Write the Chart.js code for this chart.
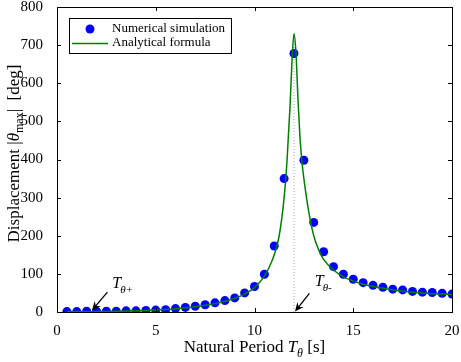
<!DOCTYPE html>
<html>
<head>
<meta charset="utf-8">
<script src="https://cdn.jsdelivr.net/npm/chart.js@4.4.1/dist/chart.umd.min.js"></script>
<style>
	body { margin: 0; background: #fff; }
	canvas { display: block; }
</style>
</head>
<body>
<canvas id="c" width="461" height="362"></canvas>
<script>
// numerical simulation points
const simPeriod = [0.5, 1, 1.5, 2, 2.5, 3, 3.5, 4, 4.5, 5, 5.5, 6, 6.5, 7, 7.5, 8, 8.5, 9, 9.5, 10,
	10.5, 11, 11.5, 12, 12.5, 13, 13.5, 14, 14.5, 15, 15.5, 16, 16.5, 17, 17.5, 18, 18.5, 19, 19.5, 20];
const simDisp = [1, 1, 2, 2, 2, 2, 3, 3, 4, 5, 6, 9, 12, 15, 19, 24, 30, 37, 50, 67,
	99, 173, 350, 678, 398, 235, 158, 119, 99, 86, 77, 70, 65, 60, 58, 54, 52, 51, 49, 47];

// analytical formula curve
const curvePeriod = [0.5, 1, 1.5, 2, 2.5, 3, 3.5, 4, 4.5, 5, 5.5, 6, 6.5, 7, 7.5, 8, 8.5, 9, 9.5, 10,
	10.5, 10.75, 11, 11.25, 11.5, 11.65, 11.8, 11.9, 12, 12.1, 12.2, 12.3, 12.4, 12.5, 12.75, 13, 13.25, 13.5,
	14, 14.5, 15, 15.5, 16, 16.5, 17, 17.5, 18, 18.5, 19, 19.5, 20];
const curveDisp = [1, 1, 0.5, 1, 1.5, 2, 2.5, 3, 4, 5, 6.5, 8.5, 11, 14, 18, 22, 28, 36, 47, 64,
	94, 118, 150, 200, 300, 400, 540, 660, 730, 680, 560, 460, 395, 350, 262, 200, 163, 138,
	110, 92, 81, 73, 67, 62, 58, 55, 52, 50, 48, 47, 46];

// resonance marker
const resPeriod = [12, 12];
const resDisp = [0, 730];

// annotations: [tipX, tipY, tailX, tailY, labelX, labelY, subscript]
const notes = [
	[1.77, 4, 2.55, 52, 2.8, 64, 'θ+'],
	[12.05, 1, 12.78, 49, 13.05, 69, 'θ-']
];

const serif = '"Liberation Serif", "Times New Roman", serif';

function pts(xs, ys) {
	return xs.map((x, i) => ({ x: x, y: ys[i] }));
}

// 文字列をパーツごとに描く
function drawRich(ctx, parts, x, y) {
	let w = 0;
	parts.forEach(p => { ctx.font = p.font; w += ctx.measureText(p.t).width; });
	let cx = x - w / 2;
	parts.forEach(p => {
		ctx.font = p.font;
		ctx.fillText(p.t, cx, y + (p.dy || 0));
		cx += ctx.measureText(p.t).width;
	});
}

function arrow(ctx, x1, y1, x2, y2) {
	const a = Math.atan2(y2 - y1, x2 - x1);
	const hl = 9, hw = 4;
	ctx.beginPath();
	ctx.moveTo(x1, y1);
	ctx.lineTo(x2 - Math.cos(a) * 5, y2 - Math.sin(a) * 5);
	ctx.lineWidth = 1.3;
	ctx.stroke();
	ctx.beginPath();
	ctx.moveTo(x2, y2);
	ctx.lineTo(x2 - hl * Math.cos(a) + hw * Math.sin(a), y2 - hl * Math.sin(a) - hw * Math.cos(a));
	ctx.lineTo(x2 - 6 * Math.cos(a), y2 - 6 * Math.sin(a));
	ctx.lineTo(x2 - hl * Math.cos(a) - hw * Math.sin(a), y2 - hl * Math.sin(a) + hw * Math.cos(a));
	ctx.closePath();
	ctx.fill();
}

const deco = {
	id: 'deco',
	afterDraw(chart) {
		const ctx = chart.ctx;
		const ca = chart.chartArea;
		const xs = chart.scales.x, ys = chart.scales.y;
		ctx.save();
		ctx.strokeStyle = '#000';
		ctx.fillStyle = '#000';

		// box
		ctx.lineWidth = 1;
		ctx.strokeRect(Math.round(ca.left) + 0.5, Math.round(ca.top) + 0.5,
			Math.round(ca.right - ca.left), Math.round(ca.bottom - ca.top));

		// inside ticks
		ctx.beginPath();
		xs.ticks.forEach(t => {
			if (t.value <= xs.min || t.value >= xs.max) return;
			const px = Math.round(xs.getPixelForValue(t.value)) + 0.5;
			ctx.moveTo(px, ca.bottom); ctx.lineTo(px, ca.bottom - 4);
			ctx.moveTo(px, ca.top); ctx.lineTo(px, ca.top + 4);
		});
		ys.ticks.forEach(t => {
			if (t.value <= ys.min || t.value >= ys.max) return;
			const py = Math.round(ys.getPixelForValue(t.value)) + 0.5;
			ctx.moveTo(ca.left, py); ctx.lineTo(ca.left + 4, py);
			ctx.moveTo(ca.right, py); ctx.lineTo(ca.right - 4, py);
		});
		ctx.stroke();

		// annotations
		notes.forEach(n => {
			arrow(ctx, xs.getPixelForValue(n[2]), ys.getPixelForValue(n[3]),
				xs.getPixelForValue(n[0]), ys.getPixelForValue(n[1]));
			const lx = xs.getPixelForValue(n[4]), ly = ys.getPixelForValue(n[5]);
			ctx.textAlign = 'left';
			ctx.textBaseline = 'alphabetic';
			ctx.font = 'italic 16px ' + serif;
			ctx.fillText('T', lx, ly);
			const tw = ctx.measureText('T').width;
			ctx.font = 'italic 11px ' + serif;
			ctx.fillText(n[6], lx + tw - 1, ly + 5);
		});

		// axis titles
		ctx.textAlign = 'left';
		ctx.textBaseline = 'alphabetic';
		const big = '17px ' + serif, it = 'italic 17px ' + serif, sub = 'italic 12px ' + serif;
		drawRich(ctx, [
			{ t: 'Natural Period ', font: big },
			{ t: 'T', font: it },
			{ t: 'θ', font: sub, dy: 5 },
			{ t: ' [s]', font: big }
		], (ca.left + ca.right) / 2, 352);

		ctx.save();
		ctx.translate(19, (ca.top + ca.bottom) / 2 - 6);
		ctx.rotate(-Math.PI / 2);
		drawRich(ctx, [
			{ t: 'Displacement |', font: big },
			{ t: 'θ', font: it },
			{ t: 'max', font: '12px ' + serif, dy: 4 },
			{ t: '|  [deg]', font: big }
		], 0, 0);
		ctx.restore();

		// legend
		const lg = { x: 69.5, y: 18.5, w: 162, h: 35 };
		ctx.fillStyle = '#fff';
		ctx.fillRect(lg.x, lg.y, lg.w, lg.h);
		ctx.strokeStyle = '#000';
		ctx.lineWidth = 1;
		ctx.strokeRect(lg.x, lg.y, lg.w, lg.h);
		ctx.fillStyle = '#0000ff';
		ctx.beginPath();
		ctx.arc(90, 29, 4.5, 0, Math.PI * 2);
		ctx.fill();
		ctx.strokeStyle = '#008000';
		ctx.lineWidth = 1.5;
		ctx.beginPath();
		ctx.moveTo(72, 43.5); ctx.lineTo(108, 43.5);
		ctx.stroke();
		ctx.fillStyle = '#000';
		ctx.font = '13px ' + serif;
		ctx.textBaseline = 'middle';
		ctx.fillText('Numerical simulation', 112, 29);
		ctx.fillText('Analytical formula', 112, 43);
		ctx.restore();
	}
};

new Chart(document.getElementById('c'), {
	type: 'scatter',
	data: {
		datasets: [
			{
				label: 'Analytical formula',
				data: pts(curvePeriod, curveDisp),
				showLine: true,
				borderColor: '#008000',
				borderWidth: 1.5,
				pointRadius: 0,
				cubicInterpolationMode: 'monotone',
				order: 0
			},
			{
				label: 'Numerical simulation',
				data: pts(simPeriod, simDisp),
				backgroundColor: '#0000ff',
				borderWidth: 0,
				pointRadius: 4.5,
				order: 1
			},
			{
				label: 'resonance',
				data: pts(resPeriod, resDisp),
				showLine: true,
				borderColor: '#aaaaaa',
				borderWidth: 1,
				borderDash: [1, 2],
				pointRadius: 0,
				order: 2
			}
		]
	},
	options: {
		responsive: false,
		animation: false,
		layout: { padding: 0 },
		plugins: { legend: { display: false }, tooltip: { enabled: false } },
		scales: {
			x: {
				type: 'linear', min: 0, max: 20,
				grid: { display: false },
				border: { display: false },
				ticks: { stepSize: 5, color: '#000', padding: 2, font: { family: serif, size: 15 } },
				afterFit: s => { s.height = 50; s.paddingLeft = 0; s.paddingRight = 9; }
			},
			y: {
				type: 'linear', min: 0, max: 800,
				grid: { display: false },
				border: { display: false },
				ticks: { stepSize: 100, color: '#000', padding: 6, font: { family: serif, size: 15 } },
				afterFit: s => { s.width = 57; s.paddingTop = 7; s.paddingBottom = 0; }
			}
		}
	},
	plugins: [deco]
});
</script>
</body>
</html>
